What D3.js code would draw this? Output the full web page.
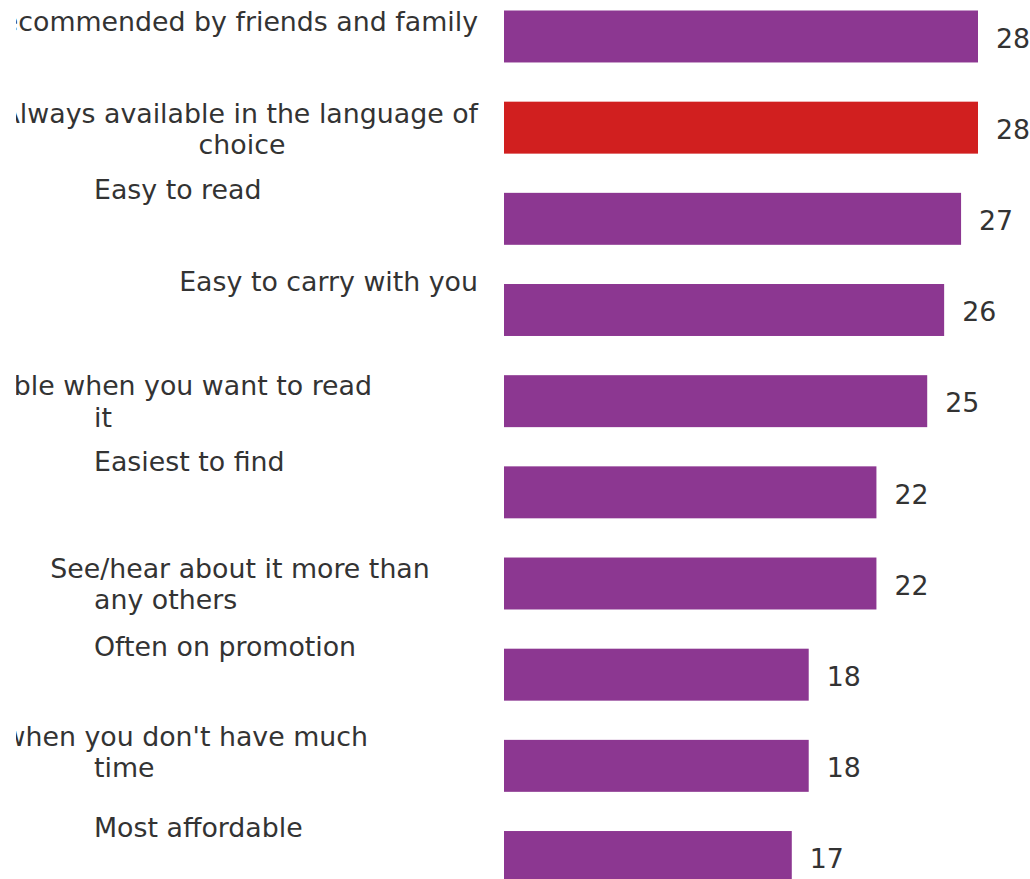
<!DOCTYPE html>
<html>
<head>
<meta charset="utf-8">
<script src="https://cdn.jsdelivr.net/npm/d3@7"></script>
<style>
  body { margin: 0; background: #ffffff; }
  svg { display: block; }
</style>
</head>
<body>
<svg id="chart" width="1030" height="879"></svg>
<script>
// Reasons for choosing, share of respondents (%)
const categories = [
  "Recommended by friends and family",
  "Always available in the language of choice",
  "Easy to read",
  "Easy to carry with you",
  "Available when you want to read it",
  "Easiest to find",
  "See/hear about it more than any others",
  "Often on promotion",
  "Useful when you don't have much time",
  "Most affordable"
];

// Wrapped form of each category label
const labelLines = [
  ["Recommended by friends and family"],
  ["Always available in the language of", "choice"],
  ["Easy to read"],
  ["Easy to carry with you"],
  ["Available when you want to read", "it"],
  ["Easiest to find"],
  ["See/hear about it more than", "any others"],
  ["Often on promotion"],
  ["Useful when you don't have much", "time"],
  ["Most affordable"]
];

const values = [28, 28, 27, 26, 25, 22, 22, 18, 18, 17];

const highlighted = ["Always available in the language of choice"];

// ---- styling ----
const W = 1030, H = 879;
const FONT = "'DejaVu Sans', Verdana, sans-serif";
const FONT_SIZE = 26.8;
const LINE_H = 31.5;
const BAR_COLOR = "#8c3791";
const HIGHLIGHT_COLOR = "#d11f1f";
const TEXT_COLOR = "#333333";

// How each wrapped label line is anchored in the label column,
// and how far the first baseline sits below the top of its bar.
const labelPlacement = [
  { first: 20, lines: [["end", 478]] },
  { first: 21, lines: [["end", 478], ["middle", 242]] },
  { first: 6,  lines: [["start", 94]] },
  { first: 7,  lines: [["end", 478]] },
  { first: 20, lines: [["end", 372], ["start", 94]] },
  { first: 5,  lines: [["start", 94]] },
  { first: 20, lines: [["middle", 240], ["start", 94]] },
  { first: 7,  lines: [["start", 94]] },
  { first: 6,  lines: [["end", 368], ["start", 94]] },
  { first: 6,  lines: [["start", 94]] }
];

const svg = d3.select("#chart");

const x = d3.scaleLinear()
  .domain([0, 28])
  .range([504, 978]);

const y = d3.scaleBand()
  .domain(categories)
  .range([10.5, 883])
  .paddingInner(0.43)
  .paddingOuter(0);

const rows = categories.map((c, i) => ({
  category: c,
  value: values[i],
  lines: labelLines[i],
  place: labelPlacement[i]
}));

// Bars
svg.append("g")
  .selectAll("rect")
  .data(rows)
  .join("rect")
  .attr("x", x(0))
  .attr("y", d => y(d.category))
  .attr("width", d => x(d.value) - x(0))
  .attr("height", y.bandwidth())
  .attr("fill", d => highlighted.includes(d.category) ? HIGHLIGHT_COLOR : BAR_COLOR);

// Value labels
svg.append("g")
  .selectAll("text")
  .data(rows)
  .join("text")
  .attr("x", d => x(d.value) + 18)
  .attr("y", d => y(d.category) + y.bandwidth() / 2)
  .attr("dy", "0.42em")
  .attr("font-family", FONT)
  .attr("font-size", FONT_SIZE)
  .attr("fill", TEXT_COLOR)
  .text(d => d3.format("d")(d.value));

// Category labels, clipped at the left edge of the label column
svg.append("defs").append("clipPath")
  .attr("id", "label-clip")
  .append("rect")
  .attr("x", 16).attr("y", 0)
  .attr("width", 488).attr("height", H);

const labels = svg.append("g")
  .attr("clip-path", "url(#label-clip)")
  .selectAll("g")
  .data(rows)
  .join("g");

labels.selectAll("text")
  .data(d => d.lines.map((t, j) => ({
    text: t,
    anchor: d.place.lines[j][0],
    lx: d.place.lines[j][1],
    ly: y(d.category) + d.place.first + j * LINE_H
  })))
  .join("text")
  .attr("x", d => d.lx)
  .attr("y", d => d.ly)
  .attr("text-anchor", d => d.anchor)
  .attr("font-family", FONT)
  .attr("font-size", FONT_SIZE)
  .attr("fill", TEXT_COLOR)
  .text(d => d.text);
</script>
</body>
</html>
